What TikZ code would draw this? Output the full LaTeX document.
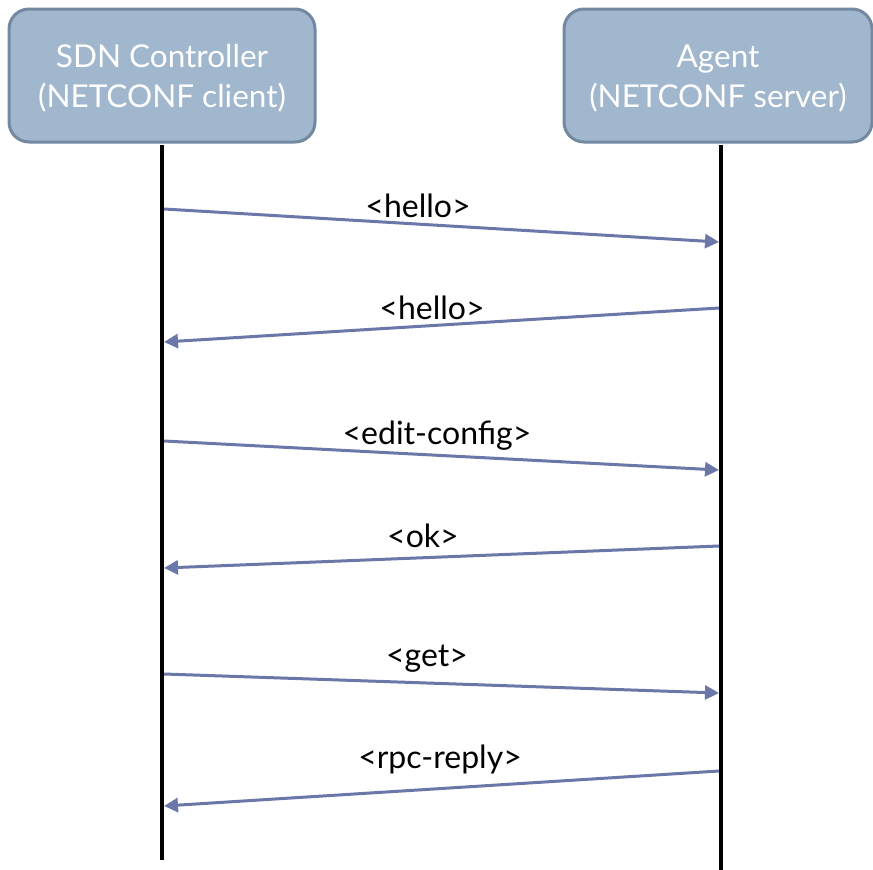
\documentclass[tikz,border=0pt]{standalone}
\usepackage{fontspec}
\setmainfont{Lato}
\usetikzlibrary{arrows.meta}
\definecolor{boxfill}{HTML}{A0B7CD}
\definecolor{boxline}{HTML}{7289A1}
\definecolor{msgline}{HTML}{6A77A8}
\begin{document}
\begin{tikzpicture}[x=1pt,y=-1pt,
  party/.style={draw=boxline, line width=3pt, fill=boxfill, rounded corners=20pt,
    minimum width=306pt, minimum height=133pt},
  partytext/.style={text=white, align=center, inner sep=0pt,
    font=\fontsize{31.5}{40}\selectfont},
  lifeline/.style={line width=4pt, black},
  msg/.style={draw=msgline, line width=3pt, -{Triangle[length=14pt,width=14pt]}},
  msglabel/.style={font=\fontsize{32}{36}\selectfont, black, anchor=base, inner sep=0pt}]
\useasboundingbox (0,0) rectangle (873,870);
% participants
\node[party] (ctl) at (162,75.5) {};
\node[party, minimum width=308pt] (agt) at (718,75.5) {};
\node[partytext] (ctltext) at ([yshift=-3pt]ctl.center) {SDN Controller\\(NETCONF client)};
\node[partytext] (agttext) at ([yshift=-3pt]agt.center) {Agent\\(NETCONF server)};
% lifelines
\coordinate (ctlEnd) at (162,860);
\coordinate (agtEnd) at (721,872);
\draw[lifeline] ([yshift=-1.5pt]ctl.south) -- (ctlEnd);
\draw[lifeline] ([yshift=-1.5pt]ctl.south -| agtEnd) -- (agtEnd);
% message end points on the lifelines
\coordinate (a1) at (164,209); \coordinate (b1) at (719,242);
\coordinate (a2) at (719,308); \coordinate (b2) at (164,342);
\coordinate (a3) at (164,441); \coordinate (b3) at (719,470);
\coordinate (a4) at (719,546); \coordinate (b4) at (164,568);
\coordinate (a5) at (164,674); \coordinate (b5) at (719,693);
\coordinate (a6) at (719,771); \coordinate (b6) at (164,806);
% messages
\draw[msg] (a1) -- (b1);
\draw[msg] (a2) -- (b2);
\draw[msg] (a3) -- (b3);
\draw[msg] (a4) -- (b4);
\draw[msg] (a5) -- (b5);
\draw[msg] (a6) -- (b6);
% message labels
\node[msglabel] (l1) at (418,217) {<hello>};
\node[msglabel] (l2) at (432,319) {<hello>};
\node[msglabel] (l3) at (437,444) {<edit-config>};
\node[msglabel] (l4) at (423,547) {<ok>};
\node[msglabel] (l5) at (427,666) {<get>};
\node[msglabel] (l6) at (440,768) {<rpc-reply>};
\end{tikzpicture}
\end{document}
